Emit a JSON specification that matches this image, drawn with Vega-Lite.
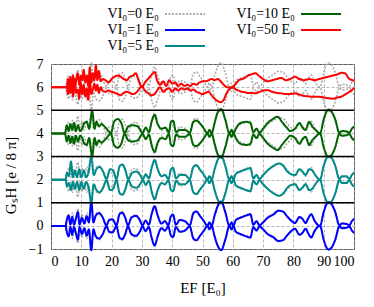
{
"$schema":"https://vega.github.io/schema/vega-lite/v6.json",
"width":303,"height":185,
"autosize":{"type":"none"},
"padding":{"left":51,"top":64,"right":20,"bottom":58},
"background":"white",
"config":{
"font":"Liberation Serif",
"view":{"stroke":"#555","strokeWidth":1},
"axis":{"labelFont":"Liberation Serif","labelFontSize":14,"labelColor":"#000","labelOverlap":false,"labelBound":false,"titleFont":"Liberation Serif","titleFontSize":15,"titleFontWeight":"normal","titleColor":"#000","domain":false,"ticks":false,"grid":true,"gridColor":"#999","gridDash":[3,2],"gridWidth":0.7},
"legend":{"symbolType":"M-4,0H4","symbolSize":100,"symbolStrokeWidth":2,"labelFont":"Liberation Serif","labelFontSize":14,"labelColor":"#000","rowPadding":2,"columnPadding":27}
},
"datasets":{
"gray":[
{"s":"V0","x":0,"u0":0,"l0":0,"u2":2,"l2":2,"u4":4,"l4":4,"u6":6,"l6":6},
{"s":"V0","x":4.8,"u0":0,"l0":0,"u2":2,"l2":2,"u4":4,"l4":4,"u6":6,"l6":6},
{"s":"V0","x":5.3,"u0":0.35,"l0":-0.35,"u2":2.35,"l2":1.65,"u4":4.35,"l4":3.65,"u6":6.35,"l6":5.65},
{"s":"V0","x":5.9,"u0":0.5,"l0":-0.5,"u2":2.5,"l2":1.5,"u4":4.5,"l4":3.5,"u6":6.5,"l6":5.5},
{"s":"V0","x":6.5,"u0":0.1,"l0":-0.1,"u2":2.1,"l2":1.9,"u4":4.1,"l4":3.9,"u6":6.1,"l6":5.9},
{"s":"V0","x":7.1,"u0":0.55,"l0":-0.55,"u2":2.55,"l2":1.45,"u4":4.55,"l4":3.45,"u6":6.55,"l6":5.45},
{"s":"V0","x":7.7,"u0":0.1,"l0":-0.1,"u2":2.1,"l2":1.9,"u4":4.1,"l4":3.9,"u6":6.1,"l6":5.9},
{"s":"V0","x":8.3,"u0":0.45,"l0":-0.45,"u2":2.45,"l2":1.55,"u4":4.45,"l4":3.55,"u6":6.45,"l6":5.55},
{"s":"V0","x":8.9,"u0":0.75,"l0":-0.75,"u2":2.75,"l2":1.25,"u4":4.75,"l4":3.25,"u6":6.75,"l6":5.25},
{"s":"V0","x":9.5,"u0":0.1,"l0":-0.1,"u2":2.1,"l2":1.9,"u4":4.1,"l4":3.9,"u6":6.1,"l6":5.9},
{"s":"V0","x":10.2,"u0":0.5,"l0":-0.5,"u2":2.5,"l2":1.5,"u4":4.5,"l4":3.5,"u6":6.5,"l6":5.5},
{"s":"V0","x":11.0,"u0":0.15,"l0":-0.15,"u2":2.15,"l2":1.85,"u4":4.15,"l4":3.85,"u6":6.15,"l6":5.85},
{"s":"V0","x":11.8,"u0":0.55,"l0":-0.55,"u2":2.55,"l2":1.45,"u4":4.55,"l4":3.45,"u6":6.55,"l6":5.45},
{"s":"V0","x":12.5,"u0":0.2,"l0":-0.2,"u2":2.2,"l2":1.8,"u4":4.2,"l4":3.8,"u6":6.2,"l6":5.8},
{"s":"V0","x":13.3,"u0":1.05,"l0":-1.05,"u2":3.05,"l2":0.95,"u4":5.05,"l4":2.95,"u6":7.05,"l6":4.95},
{"s":"V0","x":14.0,"u0":0.2,"l0":-0.2,"u2":2.2,"l2":1.8,"u4":4.2,"l4":3.8,"u6":6.2,"l6":5.8},
{"s":"V0","x":14.8,"u0":0.5,"l0":-0.5,"u2":2.5,"l2":1.5,"u4":4.5,"l4":3.5,"u6":6.5,"l6":5.5},
{"s":"V0","x":15.8,"u0":0.6,"l0":-0.6,"u2":2.6,"l2":1.4,"u4":4.6,"l4":3.4,"u6":6.6,"l6":5.4},
{"s":"V0","x":17.0,"u0":0.4,"l0":-0.4,"u2":2.4,"l2":1.6,"u4":4.4,"l4":3.6,"u6":6.4,"l6":5.6},
{"s":"V0","x":18.3,"u0":0.02,"l0":-0.02,"u2":2.02,"l2":1.98,"u4":4.02,"l4":3.98,"u6":6.02,"l6":5.98},
{"s":"V0","x":19.3,"u0":0.3,"l0":-0.3,"u2":2.3,"l2":1.7,"u4":4.3,"l4":3.7,"u6":6.3,"l6":5.7},
{"s":"V0","x":20.3,"u0":0.3,"l0":-0.3,"u2":2.3,"l2":1.7,"u4":4.3,"l4":3.7,"u6":6.3,"l6":5.7},
{"s":"V0","x":21.6,"u0":0.02,"l0":-0.02,"u2":2.02,"l2":1.98,"u4":4.02,"l4":3.98,"u6":6.02,"l6":5.98},
{"s":"V0","x":22.6,"u0":0.55,"l0":-0.55,"u2":2.55,"l2":1.45,"u4":4.55,"l4":3.45,"u6":6.55,"l6":5.45},
{"s":"V0","x":23.5,"u0":0.62,"l0":-0.62,"u2":2.62,"l2":1.38,"u4":4.62,"l4":3.38,"u6":6.62,"l6":5.38},
{"s":"V0","x":24.5,"u0":0.38,"l0":-0.38,"u2":2.38,"l2":1.62,"u4":4.38,"l4":3.62,"u6":6.38,"l6":5.62},
{"s":"V0","x":25.4,"u0":0.02,"l0":-0.02,"u2":2.02,"l2":1.98,"u4":4.02,"l4":3.98,"u6":6.02,"l6":5.98},
{"s":"V0","x":26.5,"u0":0.4,"l0":-0.4,"u2":2.4,"l2":1.6,"u4":4.4,"l4":3.6,"u6":6.4,"l6":5.6},
{"s":"V0","x":28.0,"u0":0.48,"l0":-0.48,"u2":2.48,"l2":1.52,"u4":4.48,"l4":3.52,"u6":6.48,"l6":5.52},
{"s":"V0","x":29.3,"u0":0.28,"l0":-0.28,"u2":2.28,"l2":1.72,"u4":4.28,"l4":3.72,"u6":6.28,"l6":5.72},
{"s":"V0","x":30.2,"u0":0.02,"l0":-0.02,"u2":2.02,"l2":1.98,"u4":4.02,"l4":3.98,"u6":6.02,"l6":5.98},
{"s":"V0","x":31.2,"u0":0.25,"l0":-0.25,"u2":2.25,"l2":1.75,"u4":4.25,"l4":3.75,"u6":6.25,"l6":5.75},
{"s":"V0","x":32.3,"u0":0.05,"l0":-0.05,"u2":2.05,"l2":1.95,"u4":4.05,"l4":3.95,"u6":6.05,"l6":5.95},
{"s":"V0","x":33.2,"u0":0.55,"l0":-0.55,"u2":2.55,"l2":1.45,"u4":4.55,"l4":3.45,"u6":6.55,"l6":5.45},
{"s":"V0","x":34.2,"u0":0.88,"l0":-0.88,"u2":2.88,"l2":1.12,"u4":4.88,"l4":3.12,"u6":6.88,"l6":5.12},
{"s":"V0","x":35.2,"u0":0.5,"l0":-0.5,"u2":2.5,"l2":1.5,"u4":4.5,"l4":3.5,"u6":6.5,"l6":5.5},
{"s":"V0","x":36.4,"u0":0.12,"l0":-0.12,"u2":2.12,"l2":1.88,"u4":4.12,"l4":3.88,"u6":6.12,"l6":5.88},
{"s":"V0","x":37.6,"u0":0.22,"l0":-0.22,"u2":2.22,"l2":1.78,"u4":4.22,"l4":3.78,"u6":6.22,"l6":5.78},
{"s":"V0","x":38.7,"u0":0.03,"l0":-0.03,"u2":2.03,"l2":1.97,"u4":4.03,"l4":3.97,"u6":6.03,"l6":5.97},
{"s":"V0","x":39.6,"u0":0.45,"l0":-0.45,"u2":2.45,"l2":1.55,"u4":4.45,"l4":3.55,"u6":6.45,"l6":5.55},
{"s":"V0","x":40.3,"u0":0.52,"l0":-0.52,"u2":2.52,"l2":1.48,"u4":4.52,"l4":3.48,"u6":6.52,"l6":5.48},
{"s":"V0","x":41.2,"u0":0.05,"l0":-0.05,"u2":2.05,"l2":1.95,"u4":4.05,"l4":3.95,"u6":6.05,"l6":5.95},
{"s":"V0","x":42.5,"u0":0.28,"l0":-0.28,"u2":2.28,"l2":1.72,"u4":4.28,"l4":3.72,"u6":6.28,"l6":5.72},
{"s":"V0","x":44.2,"u0":0.22,"l0":-0.22,"u2":2.22,"l2":1.78,"u4":4.22,"l4":3.78,"u6":6.22,"l6":5.78},
{"s":"V0","x":45.8,"u0":0.03,"l0":-0.03,"u2":2.03,"l2":1.97,"u4":4.03,"l4":3.97,"u6":6.03,"l6":5.97},
{"s":"V0","x":47.0,"u0":0.58,"l0":-0.58,"u2":2.58,"l2":1.42,"u4":4.58,"l4":3.42,"u6":6.58,"l6":5.42},
{"s":"V0","x":48.0,"u0":0.65,"l0":-0.65,"u2":2.65,"l2":1.35,"u4":4.65,"l4":3.35,"u6":6.65,"l6":5.35},
{"s":"V0","x":49.2,"u0":0.45,"l0":-0.45,"u2":2.45,"l2":1.55,"u4":4.45,"l4":3.55,"u6":6.45,"l6":5.55},
{"s":"V0","x":50.5,"u0":0.22,"l0":-0.22,"u2":2.22,"l2":1.78,"u4":4.22,"l4":3.78,"u6":6.22,"l6":5.78},
{"s":"V0","x":51.6,"u0":0,"l0":0,"u2":2,"l2":2,"u4":4,"l4":4,"u6":6,"l6":6},
{"s":"V0","x":52.3,"u0":0.18,"l0":-0.18,"u2":2.18,"l2":1.82,"u4":4.18,"l4":3.82,"u6":6.18,"l6":5.82},
{"s":"V0","x":53.0,"u0":0,"l0":0,"u2":2,"l2":2,"u4":4,"l4":4,"u6":6,"l6":6},
{"s":"V0","x":54.0,"u0":0.5,"l0":-0.5,"u2":2.5,"l2":1.5,"u4":4.5,"l4":3.5,"u6":6.5,"l6":5.5},
{"s":"V0","x":55.0,"u0":0.88,"l0":-0.88,"u2":2.88,"l2":1.12,"u4":4.88,"l4":3.12,"u6":6.88,"l6":5.12},
{"s":"V0","x":56.2,"u0":1.05,"l0":-1.05,"u2":3.05,"l2":0.95,"u4":5.05,"l4":2.95,"u6":7.05,"l6":4.95},
{"s":"V0","x":57.5,"u0":0.62,"l0":-0.62,"u2":2.62,"l2":1.38,"u4":4.62,"l4":3.38,"u6":6.62,"l6":5.38},
{"s":"V0","x":58.9,"u0":0,"l0":0,"u2":2,"l2":2,"u4":4,"l4":4,"u6":6,"l6":6},
{"s":"V0","x":59.6,"u0":0.18,"l0":-0.18,"u2":2.18,"l2":1.82,"u4":4.18,"l4":3.82,"u6":6.18,"l6":5.82},
{"s":"V0","x":60.2,"u0":0,"l0":0,"u2":2,"l2":2,"u4":4,"l4":4,"u6":6,"l6":6},
{"s":"V0","x":61.0,"u0":0.28,"l0":-0.28,"u2":2.28,"l2":1.72,"u4":4.28,"l4":3.72,"u6":6.28,"l6":5.72},
{"s":"V0","x":62.5,"u0":0.38,"l0":-0.38,"u2":2.38,"l2":1.62,"u4":4.38,"l4":3.62,"u6":6.38,"l6":5.62},
{"s":"V0","x":64.5,"u0":0.48,"l0":-0.48,"u2":2.48,"l2":1.52,"u4":4.48,"l4":3.52,"u6":6.48,"l6":5.52},
{"s":"V0","x":65.8,"u0":0.52,"l0":-0.52,"u2":2.52,"l2":1.48,"u4":4.52,"l4":3.48,"u6":6.52,"l6":5.48},
{"s":"V0","x":66.8,"u0":0.05,"l0":-0.05,"u2":2.05,"l2":1.95,"u4":4.05,"l4":3.95,"u6":6.05,"l6":5.95},
{"s":"V0","x":67.8,"u0":0.22,"l0":-0.22,"u2":2.22,"l2":1.78,"u4":4.22,"l4":3.78,"u6":6.22,"l6":5.78},
{"s":"V0","x":68.8,"u0":0.03,"l0":-0.03,"u2":2.03,"l2":1.97,"u4":4.03,"l4":3.97,"u6":6.03,"l6":5.97},
{"s":"V0","x":70.0,"u0":0.18,"l0":-0.18,"u2":2.18,"l2":1.82,"u4":4.18,"l4":3.82,"u6":6.18,"l6":5.82},
{"s":"V0","x":71.5,"u0":0.38,"l0":-0.38,"u2":2.38,"l2":1.62,"u4":4.38,"l4":3.62,"u6":6.38,"l6":5.62},
{"s":"V0","x":73.5,"u0":0.55,"l0":-0.55,"u2":2.55,"l2":1.45,"u4":4.55,"l4":3.45,"u6":6.55,"l6":5.45},
{"s":"V0","x":75.0,"u0":0.68,"l0":-0.68,"u2":2.68,"l2":1.32,"u4":4.68,"l4":3.32,"u6":6.68,"l6":5.32},
{"s":"V0","x":76.5,"u0":0.65,"l0":-0.65,"u2":2.65,"l2":1.35,"u4":4.65,"l4":3.35,"u6":6.65,"l6":5.35},
{"s":"V0","x":78.0,"u0":0.42,"l0":-0.42,"u2":2.42,"l2":1.58,"u4":4.42,"l4":3.58,"u6":6.42,"l6":5.58},
{"s":"V0","x":79.5,"u0":0.22,"l0":-0.22,"u2":2.22,"l2":1.78,"u4":4.22,"l4":3.78,"u6":6.22,"l6":5.78},
{"s":"V0","x":80.5,"u0":0.15,"l0":-0.15,"u2":2.15,"l2":1.85,"u4":4.15,"l4":3.85,"u6":6.15,"l6":5.85},
{"s":"V0","x":82.0,"u0":0.4,"l0":-0.4,"u2":2.4,"l2":1.6,"u4":4.4,"l4":3.6,"u6":6.4,"l6":5.6},
{"s":"V0","x":83.0,"u0":0.32,"l0":-0.32,"u2":2.32,"l2":1.68,"u4":4.32,"l4":3.68,"u6":6.32,"l6":5.68},
{"s":"V0","x":84.0,"u0":0.15,"l0":-0.15,"u2":2.15,"l2":1.85,"u4":4.15,"l4":3.85,"u6":6.15,"l6":5.85},
{"s":"V0","x":85.0,"u0":0.38,"l0":-0.38,"u2":2.38,"l2":1.62,"u4":4.38,"l4":3.62,"u6":6.38,"l6":5.62},
{"s":"V0","x":85.9,"u0":0.52,"l0":-0.52,"u2":2.52,"l2":1.48,"u4":4.52,"l4":3.48,"u6":6.52,"l6":5.48},
{"s":"V0","x":87.0,"u0":0.25,"l0":-0.25,"u2":2.25,"l2":1.75,"u4":4.25,"l4":3.75,"u6":6.25,"l6":5.75},
{"s":"V0","x":88.8,"u0":0,"l0":0,"u2":2,"l2":2,"u4":4,"l4":4,"u6":6,"l6":6},
{"s":"V0","x":90.0,"u0":0.62,"l0":-0.62,"u2":2.62,"l2":1.38,"u4":4.62,"l4":3.38,"u6":6.62,"l6":5.38},
{"s":"V0","x":91.5,"u0":1.05,"l0":-1.05,"u2":3.05,"l2":0.95,"u4":5.05,"l4":2.95,"u6":7.05,"l6":4.95},
{"s":"V0","x":92.5,"u0":0.98,"l0":-0.98,"u2":2.98,"l2":1.02,"u4":4.98,"l4":3.02,"u6":6.98,"l6":5.02},
{"s":"V0","x":93.8,"u0":0.62,"l0":-0.62,"u2":2.62,"l2":1.38,"u4":4.62,"l4":3.38,"u6":6.62,"l6":5.38},
{"s":"V0","x":95.2,"u0":0.02,"l0":-0.02,"u2":2.02,"l2":1.98,"u4":4.02,"l4":3.98,"u6":6.02,"l6":5.98},
{"s":"V0","x":96.0,"u0":0.12,"l0":-0.12,"u2":2.12,"l2":1.88,"u4":4.12,"l4":3.88,"u6":6.12,"l6":5.88},
{"s":"V0","x":97.5,"u0":0.1,"l0":-0.1,"u2":2.1,"l2":1.9,"u4":4.1,"l4":3.9,"u6":6.1,"l6":5.9},
{"s":"V0","x":98.5,"u0":0.03,"l0":-0.03,"u2":2.03,"l2":1.97,"u4":4.03,"l4":3.97,"u6":6.03,"l6":5.97},
{"s":"V0","x":99.3,"u0":0.22,"l0":-0.22,"u2":2.22,"l2":1.78,"u4":4.22,"l4":3.78,"u6":6.22,"l6":5.78},
{"s":"V0","x":100,"u0":0.32,"l0":-0.32,"u2":2.32,"l2":1.68,"u4":4.32,"l4":3.68,"u6":6.32,"l6":5.68}
],
"curves":[
{"s":"V1","x":0,"u":0,"l":0},{"s":"V1","x":4.8,"u":0,"l":0},{"s":"V1","x":5.2,"u":0.25,"l":-0.25},{"s":"V1","x":5.8,"u":0.45,"l":-0.45},{"s":"V1","x":6.4,"u":0.05,"l":-0.05},{"s":"V1","x":7.0,"u":0.38,"l":-0.38},{"s":"V1","x":7.6,"u":0.05,"l":-0.05},{"s":"V1","x":8.2,"u":0.3,"l":-0.3},{"s":"V1","x":8.9,"u":0.6,"l":-0.6},{"s":"V1","x":9.4,"u":0.05,"l":-0.05},{"s":"V1","x":10.2,"u":0.35,"l":-0.35},{"s":"V1","x":11.0,"u":0.1,"l":-0.1},{"s":"V1","x":11.8,"u":0.42,"l":-0.42},{"s":"V1","x":12.5,"u":0.15,"l":-0.15},{"s":"V1","x":13.3,"u":1.05,"l":-1.05},{"s":"V1","x":14.0,"u":0.15,"l":-0.15},{"s":"V1","x":14.8,"u":0.45,"l":-0.45},{"s":"V1","x":15.8,"u":0.55,"l":-0.55},{"s":"V1","x":17.0,"u":0.38,"l":-0.38},{"s":"V1","x":18.3,"u":0.02,"l":-0.02},{"s":"V1","x":19.2,"u":0.25,"l":-0.25},{"s":"V1","x":20.3,"u":0.28,"l":-0.28},{"s":"V1","x":21.6,"u":0.02,"l":-0.02},{"s":"V1","x":22.6,"u":0.5,"l":-0.5},{"s":"V1","x":23.5,"u":0.57,"l":-0.57},{"s":"V1","x":24.5,"u":0.35,"l":-0.35},{"s":"V1","x":25.4,"u":0.02,"l":-0.02},{"s":"V1","x":26.5,"u":0.35,"l":-0.35},{"s":"V1","x":28.0,"u":0.43,"l":-0.43},{"s":"V1","x":29.3,"u":0.25,"l":-0.25},{"s":"V1","x":30.2,"u":0.02,"l":-0.02},{"s":"V1","x":31.2,"u":0.22,"l":-0.22},{"s":"V1","x":32.3,"u":0.05,"l":-0.05},{"s":"V1","x":33.2,"u":0.5,"l":-0.5},{"s":"V1","x":34.2,"u":0.85,"l":-0.85},{"s":"V1","x":35.2,"u":0.45,"l":-0.45},{"s":"V1","x":36.4,"u":0.1,"l":-0.1},{"s":"V1","x":37.6,"u":0.2,"l":-0.2},{"s":"V1","x":38.7,"u":0.03,"l":-0.03},{"s":"V1","x":39.6,"u":0.42,"l":-0.42},{"s":"V1","x":40.3,"u":0.48,"l":-0.48},{"s":"V1","x":41.2,"u":0.05,"l":-0.05},{"s":"V1","x":42.5,"u":0.25,"l":-0.25},{"s":"V1","x":44.2,"u":0.2,"l":-0.2},{"s":"V1","x":45.8,"u":0.03,"l":-0.03},{"s":"V1","x":47.0,"u":0.55,"l":-0.55},{"s":"V1","x":48.0,"u":0.62,"l":-0.62},{"s":"V1","x":49.2,"u":0.42,"l":-0.42},{"s":"V1","x":50.5,"u":0.2,"l":-0.2},{"s":"V1","x":51.6,"u":0,"l":0},{"s":"V1","x":52.3,"u":0.15,"l":-0.15},{"s":"V1","x":53.0,"u":0,"l":0},{"s":"V1","x":54.0,"u":0.45,"l":-0.45},{"s":"V1","x":55.0,"u":0.85,"l":-0.85},{"s":"V1","x":56.2,"u":1.05,"l":-1.05},{"s":"V1","x":57.5,"u":0.6,"l":-0.6},{"s":"V1","x":58.9,"u":0,"l":0},{"s":"V1","x":59.6,"u":0.15,"l":-0.15},{"s":"V1","x":60.2,"u":0,"l":0},{"s":"V1","x":61.0,"u":0.25,"l":-0.25},{"s":"V1","x":62.5,"u":0.35,"l":-0.35},{"s":"V1","x":64.5,"u":0.45,"l":-0.45},{"s":"V1","x":65.8,"u":0.5,"l":-0.5},{"s":"V1","x":66.8,"u":0.05,"l":-0.05},{"s":"V1","x":67.8,"u":0.2,"l":-0.2},{"s":"V1","x":68.8,"u":0.03,"l":-0.03},{"s":"V1","x":70.0,"u":0.15,"l":-0.15},{"s":"V1","x":71.5,"u":0.35,"l":-0.35},{"s":"V1","x":73.5,"u":0.5,"l":-0.5},{"s":"V1","x":75.0,"u":0.65,"l":-0.65},{"s":"V1","x":76.5,"u":0.62,"l":-0.62},{"s":"V1","x":78.0,"u":0.4,"l":-0.4},{"s":"V1","x":79.5,"u":0.2,"l":-0.2},{"s":"V1","x":80.5,"u":0.12,"l":-0.12},{"s":"V1","x":82.0,"u":0.38,"l":-0.38},{"s":"V1","x":83.0,"u":0.3,"l":-0.3},{"s":"V1","x":84.0,"u":0.12,"l":-0.12},{"s":"V1","x":85.0,"u":0.35,"l":-0.35},{"s":"V1","x":85.9,"u":0.5,"l":-0.5},{"s":"V1","x":87.0,"u":0.22,"l":-0.22},{"s":"V1","x":88.8,"u":0,"l":0},{"s":"V1","x":90.0,"u":0.6,"l":-0.6},{"s":"V1","x":91.5,"u":1.02,"l":-1.02},{"s":"V1","x":92.5,"u":0.95,"l":-0.95},{"s":"V1","x":93.8,"u":0.6,"l":-0.6},{"s":"V1","x":95.2,"u":0.02,"l":-0.02},{"s":"V1","x":96.0,"u":0.1,"l":-0.1},{"s":"V1","x":97.5,"u":0.08,"l":-0.08},{"s":"V1","x":98.5,"u":0.03,"l":-0.03},{"s":"V1","x":99.3,"u":0.2,"l":-0.2},{"s":"V1","x":100,"u":0.3,"l":-0.3},
{"s":"V5","x":0,"u":2,"l":2},{"s":"V5","x":4.8,"u":2,"l":2},{"s":"V5","x":5.3,"u":2.3,"l":1.7},{"s":"V5","x":5.9,"u":2.15,"l":1.85},{"s":"V5","x":6.6,"u":2.78,"l":1.55},{"s":"V5","x":7.2,"u":2.1,"l":1.9},{"s":"V5","x":7.9,"u":2.4,"l":1.6},{"s":"V5","x":8.6,"u":2.1,"l":1.9},{"s":"V5","x":9.3,"u":2.45,"l":1.55},{"s":"V5","x":10.0,"u":2.1,"l":1.9},{"s":"V5","x":10.8,"u":2.4,"l":1.6},{"s":"V5","x":11.6,"u":2.1,"l":1.9},{"s":"V5","x":12.4,"u":2.35,"l":1.65},{"s":"V5","x":13.3,"u":3.0,"l":1.0},{"s":"V5","x":14.1,"u":2.2,"l":1.8},{"s":"V5","x":15.0,"u":2.45,"l":1.55},{"s":"V5","x":16.0,"u":2.55,"l":1.45},{"s":"V5","x":17.2,"u":2.35,"l":1.65},{"s":"V5","x":18.3,"u":2.03,"l":1.97},{"s":"V5","x":19.5,"u":2.45,"l":1.55},{"s":"V5","x":20.5,"u":2.4,"l":1.6},{"s":"V5","x":21.6,"u":2.02,"l":1.98},{"s":"V5","x":22.7,"u":2.6,"l":1.4},{"s":"V5","x":23.6,"u":2.65,"l":1.35},{"s":"V5","x":24.6,"u":2.4,"l":1.6},{"s":"V5","x":25.5,"u":2.02,"l":1.98},{"s":"V5","x":26.8,"u":2.3,"l":1.7},{"s":"V5","x":28.2,"u":2.35,"l":1.65},{"s":"V5","x":29.4,"u":2.2,"l":1.8},{"s":"V5","x":30.3,"u":2.02,"l":1.98},{"s":"V5","x":31.3,"u":2.22,"l":1.78},{"s":"V5","x":32.3,"u":2.05,"l":1.95},{"s":"V5","x":33.3,"u":2.55,"l":1.45},{"s":"V5","x":34.2,"u":2.85,"l":1.15},{"s":"V5","x":35.2,"u":2.45,"l":1.55},{"s":"V5","x":36.5,"u":2.15,"l":1.85},{"s":"V5","x":37.6,"u":2.2,"l":1.8},{"s":"V5","x":38.8,"u":2.03,"l":1.97},{"s":"V5","x":39.6,"u":2.45,"l":1.55},{"s":"V5","x":40.3,"u":2.5,"l":1.5},{"s":"V5","x":41.3,"u":2.05,"l":1.95},{"s":"V5","x":42.5,"u":2.2,"l":1.8},{"s":"V5","x":44.2,"u":2.2,"l":1.8},{"s":"V5","x":45.8,"u":2.03,"l":1.97},{"s":"V5","x":47.0,"u":2.55,"l":1.45},{"s":"V5","x":48.0,"u":2.62,"l":1.38},{"s":"V5","x":49.2,"u":2.42,"l":1.58},{"s":"V5","x":50.5,"u":2.2,"l":1.8},{"s":"V5","x":51.6,"u":2,"l":2},{"s":"V5","x":52.3,"u":2.15,"l":1.85},{"s":"V5","x":53.0,"u":2,"l":2},{"s":"V5","x":54.0,"u":2.45,"l":1.55},{"s":"V5","x":55.0,"u":2.85,"l":1.15},{"s":"V5","x":56.2,"u":3.02,"l":0.98},{"s":"V5","x":57.5,"u":2.6,"l":1.4},{"s":"V5","x":58.9,"u":2,"l":2},{"s":"V5","x":59.6,"u":2.15,"l":1.85},{"s":"V5","x":60.2,"u":2,"l":2},{"s":"V5","x":61.0,"u":2.25,"l":1.75},{"s":"V5","x":62.5,"u":2.35,"l":1.65},{"s":"V5","x":64.5,"u":2.45,"l":1.55},{"s":"V5","x":65.8,"u":2.5,"l":1.5},{"s":"V5","x":66.8,"u":2.05,"l":1.95},{"s":"V5","x":67.8,"u":2.2,"l":1.8},{"s":"V5","x":68.8,"u":2.03,"l":1.97},{"s":"V5","x":70.0,"u":2.2,"l":1.8},{"s":"V5","x":71.5,"u":2.4,"l":1.6},{"s":"V5","x":73.5,"u":2.6,"l":1.4},{"s":"V5","x":75.3,"u":2.7,"l":1.3},{"s":"V5","x":76.5,"u":2.62,"l":1.38},{"s":"V5","x":78.0,"u":2.35,"l":1.65},{"s":"V5","x":79.5,"u":2.22,"l":1.78},{"s":"V5","x":80.5,"u":2.2,"l":1.8},{"s":"V5","x":82.0,"u":2.45,"l":1.55},{"s":"V5","x":83.0,"u":2.35,"l":1.65},{"s":"V5","x":84.0,"u":2.2,"l":1.8},{"s":"V5","x":85.2,"u":2.45,"l":1.55},{"s":"V5","x":86.2,"u":2.4,"l":1.6},{"s":"V5","x":87.2,"u":2.2,"l":1.8},{"s":"V5","x":88.8,"u":2,"l":2},{"s":"V5","x":90.0,"u":2.6,"l":1.4},{"s":"V5","x":91.5,"u":3.0,"l":1.0},{"s":"V5","x":92.5,"u":2.95,"l":1.05},{"s":"V5","x":93.8,"u":2.6,"l":1.4},{"s":"V5","x":95.2,"u":2.02,"l":1.98},{"s":"V5","x":96.0,"u":2.15,"l":1.85},{"s":"V5","x":97.5,"u":2.15,"l":1.85},{"s":"V5","x":98.5,"u":2.03,"l":1.97},{"s":"V5","x":99.3,"u":2.2,"l":1.8},{"s":"V5","x":100,"u":2.3,"l":1.7},
{"s":"V10","x":0,"u":4,"l":4},{"s":"V10","x":4.6,"u":4,"l":4},{"s":"V10","x":5.2,"u":4.35,"l":3.65},{"s":"V10","x":5.8,"u":4.1,"l":3.9},{"s":"V10","x":6.4,"u":4.4,"l":3.6},{"s":"V10","x":7.0,"u":4.15,"l":3.85},{"s":"V10","x":7.6,"u":4.45,"l":3.55},{"s":"V10","x":8.2,"u":4.1,"l":3.9},{"s":"V10","x":8.9,"u":4.35,"l":3.65},{"s":"V10","x":9.6,"u":4.1,"l":3.9},{"s":"V10","x":10.3,"u":4.2,"l":3.8},{"s":"V10","x":11.0,"u":4.45,"l":3.55},{"s":"V10","x":11.8,"u":4.5,"l":3.5},{"s":"V10","x":12.6,"u":4.2,"l":3.8},{"s":"V10","x":13.6,"u":4.95,"l":3.0},{"s":"V10","x":14.4,"u":4.2,"l":3.8},{"s":"V10","x":15.0,"u":4.5,"l":3.5},{"s":"V10","x":15.8,"u":4.3,"l":3.7},{"s":"V10","x":16.6,"u":4.4,"l":3.6},{"s":"V10","x":18.0,"u":4.25,"l":3.75},{"s":"V10","x":19.8,"u":4.02,"l":3.98},{"s":"V10","x":20.8,"u":4.5,"l":3.5},{"s":"V10","x":22.0,"u":4.62,"l":3.38},{"s":"V10","x":23.2,"u":4.45,"l":3.55},{"s":"V10","x":24.3,"u":4.02,"l":3.98},{"s":"V10","x":25.5,"u":4.3,"l":3.7},{"s":"V10","x":27.0,"u":4.35,"l":3.65},{"s":"V10","x":28.6,"u":4.3,"l":3.7},{"s":"V10","x":30.2,"u":4.02,"l":3.98},{"s":"V10","x":31.3,"u":4.25,"l":3.75},{"s":"V10","x":32.3,"u":4.05,"l":3.95},{"s":"V10","x":33.3,"u":4.55,"l":3.45},{"s":"V10","x":34.2,"u":4.8,"l":3.2},{"s":"V10","x":35.2,"u":4.4,"l":3.6},{"s":"V10","x":36.5,"u":4.2,"l":3.8},{"s":"V10","x":37.8,"u":4.25,"l":3.75},{"s":"V10","x":38.9,"u":4.03,"l":3.97},{"s":"V10","x":39.6,"u":4.5,"l":3.5},{"s":"V10","x":40.3,"u":4.55,"l":3.45},{"s":"V10","x":41.3,"u":4.05,"l":3.95},{"s":"V10","x":42.5,"u":4.15,"l":3.85},{"s":"V10","x":44.2,"u":4.15,"l":3.85},{"s":"V10","x":45.8,"u":4.03,"l":3.97},{"s":"V10","x":47.0,"u":4.5,"l":3.5},{"s":"V10","x":48.0,"u":4.55,"l":3.45},{"s":"V10","x":49.2,"u":4.42,"l":3.58},{"s":"V10","x":50.5,"u":4.2,"l":3.8},{"s":"V10","x":51.6,"u":4,"l":4},{"s":"V10","x":52.3,"u":4.15,"l":3.85},{"s":"V10","x":53.0,"u":4,"l":4},{"s":"V10","x":54.0,"u":4.45,"l":3.55},{"s":"V10","x":55.0,"u":4.9,"l":3.1},{"s":"V10","x":56.2,"u":5.05,"l":2.95},{"s":"V10","x":57.5,"u":4.6,"l":3.4},{"s":"V10","x":58.9,"u":4,"l":4},{"s":"V10","x":59.6,"u":4.15,"l":3.85},{"s":"V10","x":60.2,"u":4,"l":4},{"s":"V10","x":61.0,"u":4.2,"l":3.8},{"s":"V10","x":62.5,"u":4.45,"l":3.55},{"s":"V10","x":64.5,"u":4.5,"l":3.5},{"s":"V10","x":65.8,"u":4.45,"l":3.55},{"s":"V10","x":66.8,"u":4.05,"l":3.95},{"s":"V10","x":67.8,"u":4.2,"l":3.8},{"s":"V10","x":68.8,"u":4.03,"l":3.97},{"s":"V10","x":70.0,"u":4.2,"l":3.8},{"s":"V10","x":71.5,"u":4.45,"l":3.55},{"s":"V10","x":73.0,"u":4.6,"l":3.4},{"s":"V10","x":74.8,"u":4.72,"l":3.28},{"s":"V10","x":76.2,"u":4.5,"l":3.5},{"s":"V10","x":77.8,"u":4.25,"l":3.75},{"s":"V10","x":79.0,"u":4.1,"l":3.9},{"s":"V10","x":80.5,"u":4.2,"l":3.8},{"s":"V10","x":82.0,"u":4.45,"l":3.55},{"s":"V10","x":83.0,"u":4.25,"l":3.75},{"s":"V10","x":84.0,"u":4.15,"l":3.85},{"s":"V10","x":85.2,"u":4.5,"l":3.5},{"s":"V10","x":86.2,"u":4.3,"l":3.7},{"s":"V10","x":87.3,"u":4.15,"l":3.85},{"s":"V10","x":88.8,"u":4,"l":4},{"s":"V10","x":90.0,"u":4.6,"l":3.4},{"s":"V10","x":91.5,"u":5.02,"l":2.98},{"s":"V10","x":92.5,"u":4.95,"l":3.05},{"s":"V10","x":93.8,"u":4.6,"l":3.4},{"s":"V10","x":95.2,"u":4.02,"l":3.98},{"s":"V10","x":96.0,"u":4.1,"l":3.9},{"s":"V10","x":97.5,"u":4.08,"l":3.92},{"s":"V10","x":98.5,"u":4.03,"l":3.97},{"s":"V10","x":99.3,"u":4.2,"l":3.8},{"s":"V10","x":100,"u":4.3,"l":3.7},
{"s":"V50","x":0,"u":6,"l":6},{"s":"V50","x":5.2,"u":6,"l":6},{"s":"V50","x":5.6,"u":6.35,"l":5.7},{"s":"V50","x":6.0,"u":5.8,"l":6.3},{"s":"V50","x":6.4,"u":6.45,"l":5.75},{"s":"V50","x":6.9,"u":5.85,"l":6.2},{"s":"V50","x":7.3,"u":6.5,"l":5.6},{"s":"V50","x":7.8,"u":5.9,"l":6.35},{"s":"V50","x":8.3,"u":6.3,"l":5.75},{"s":"V50","x":8.8,"u":6.6,"l":5.9},{"s":"V50","x":9.3,"u":6.1,"l":5.5},{"s":"V50","x":9.8,"u":6.5,"l":6.2},{"s":"V50","x":10.3,"u":6.3,"l":5.7},{"s":"V50","x":10.8,"u":6.75,"l":6.1},{"s":"V50","x":11.3,"u":6.2,"l":5.6},{"s":"V50","x":11.8,"u":6.5,"l":5.95},{"s":"V50","x":12.3,"u":6.05,"l":5.45},{"s":"V50","x":12.8,"u":6.85,"l":6.3},{"s":"V50","x":13.3,"u":6.2,"l":5.7},{"s":"V50","x":13.8,"u":6.6,"l":5.9},{"s":"V50","x":14.3,"u":6.3,"l":6.15},{"s":"V50","x":14.8,"u":6.95,"l":5.85},{"s":"V50","x":15.3,"u":6.3,"l":6.1},{"s":"V50","x":15.8,"u":6.7,"l":5.75},{"s":"V50","x":16.4,"u":6.25,"l":6.0},{"s":"V50","x":17.0,"u":6.35,"l":5.85},{"s":"V50","x":18.0,"u":6.3,"l":5.8},{"s":"V50","x":19.0,"u":6.2,"l":5.85},{"s":"V50","x":20.0,"u":6.35,"l":5.8},{"s":"V50","x":21.0,"u":6.45,"l":5.75},{"s":"V50","x":22.0,"u":6.5,"l":5.7},{"s":"V50","x":23.0,"u":6.45,"l":5.65},{"s":"V50","x":24.0,"u":6.35,"l":5.75},{"s":"V50","x":25.0,"u":6.3,"l":5.8},{"s":"V50","x":26.0,"u":6.45,"l":5.75},{"s":"V50","x":27.0,"u":6.5,"l":5.7},{"s":"V50","x":28.0,"u":6.6,"l":5.75},{"s":"V50","x":29.0,"u":6.25,"l":5.9},{"s":"V50","x":30.0,"u":6.0,"l":6.05},{"s":"V50","x":31.0,"u":6.2,"l":5.85},{"s":"V50","x":32.0,"u":6.35,"l":5.75},{"s":"V50","x":33.0,"u":6.5,"l":5.65},{"s":"V50","x":34.2,"u":6.65,"l":5.7},{"s":"V50","x":35.0,"u":6.3,"l":5.85},{"s":"V50","x":36.0,"u":6.1,"l":6.0},{"s":"V50","x":37.0,"u":6.25,"l":5.8},{"s":"V50","x":38.0,"u":6.05,"l":5.9},{"s":"V50","x":39.0,"u":6.3,"l":5.95},{"s":"V50","x":40.0,"u":6.15,"l":5.8},{"s":"V50","x":41.0,"u":6.2,"l":5.95},{"s":"V50","x":42.0,"u":6.05,"l":5.85},{"s":"V50","x":43.0,"u":6.15,"l":5.95},{"s":"V50","x":44.0,"u":6.05,"l":5.9},{"s":"V50","x":45.0,"u":6.1,"l":5.95},{"s":"V50","x":46.0,"u":6.05,"l":5.85},{"s":"V50","x":47.0,"u":6.15,"l":5.9},{"s":"V50","x":48.0,"u":6.1,"l":5.8},{"s":"V50","x":49.0,"u":6.2,"l":5.75},{"s":"V50","x":50.0,"u":6.25,"l":5.7},{"s":"V50","x":51.0,"u":6.25,"l":5.75},{"s":"V50","x":52.0,"u":6.3,"l":5.8},{"s":"V50","x":53.0,"u":6.35,"l":5.65},{"s":"V50","x":54.0,"u":6.3,"l":5.5},{"s":"V50","x":55.0,"u":6.35,"l":5.4},{"s":"V50","x":56.0,"u":6.25,"l":5.35},{"s":"V50","x":57.0,"u":6.1,"l":5.45},{"s":"V50","x":58.0,"u":6.0,"l":5.75},{"s":"V50","x":59.0,"u":5.98,"l":5.92},{"s":"V50","x":60.0,"u":6.0,"l":6.0},{"s":"V50","x":61.0,"u":6.15,"l":5.9},{"s":"V50","x":62.0,"u":6.3,"l":5.85},{"s":"V50","x":63.0,"u":6.35,"l":5.8},{"s":"V50","x":64.0,"u":6.4,"l":5.78},{"s":"V50","x":65.0,"u":6.5,"l":5.75},{"s":"V50","x":66.0,"u":6.55,"l":5.75},{"s":"V50","x":67.5,"u":6.6,"l":5.73},{"s":"V50","x":68.5,"u":6.5,"l":5.78},{"s":"V50","x":70.0,"u":6.35,"l":5.85},{"s":"V50","x":71.5,"u":6.25,"l":5.87},{"s":"V50","x":73.0,"u":6.3,"l":5.8},{"s":"V50","x":74.5,"u":6.35,"l":5.75},{"s":"V50","x":76.0,"u":6.4,"l":5.73},{"s":"V50","x":77.5,"u":6.3,"l":5.7},{"s":"V50","x":79.0,"u":6.35,"l":5.7},{"s":"V50","x":80.5,"u":6.45,"l":5.73},{"s":"V50","x":82.0,"u":6.35,"l":5.68},{"s":"V50","x":83.5,"u":6.3,"l":5.62},{"s":"V50","x":85.0,"u":6.35,"l":5.6},{"s":"V50","x":87.0,"u":6.3,"l":5.58},{"s":"V50","x":88.5,"u":6.35,"l":5.58},{"s":"V50","x":90.0,"u":6.4,"l":5.55},{"s":"V50","x":91.5,"u":6.45,"l":5.52},{"s":"V50","x":93.0,"u":6.5,"l":5.5},{"s":"V50","x":94.5,"u":6.55,"l":5.55},{"s":"V50","x":96.0,"u":6.62,"l":5.6},{"s":"V50","x":97.0,"u":6.6,"l":5.68},{"s":"V50","x":98.5,"u":6.35,"l":5.8},{"s":"V50","x":99.5,"u":6.3,"l":5.9},{"s":"V50","x":100,"u":6.25,"l":5.95}
],
"seps":[{"value":1},{"value":3},{"value":5}]
},
"layer":[
{"data":{"name":"gray"},
 "transform":[{"fold":["u0","l0","u2","l2","u4","l4","u6","l6"]}],
 "mark":{"type":"line","interpolate":"monotone","strokeWidth":1.6},
 "encoding":{
  "x":{"field":"x","type":"quantitative","scale":{"domain":[0,100],"nice":false},"axis":{"values":[0,10,20,30,40,50,60,70,80,90,100],"tickCount":20,"format":"d","labelOverlap":false,"title":"EF [E₀]","labelPadding":5,"titlePadding":12}},
  "y":{"field":"value","type":"quantitative","scale":{"domain":[-1,7],"nice":false,"zero":false},"axis":{"values":[-1,0,1,2,3,4,5,6,7],"tickCount":20,"format":"d","labelOverlap":false,"title":"GₛH [e / 8 π]","labelPadding":8,"titlePadding":10,"titleY":111}},
  "detail":{"field":"key"},
  "color":{"field":"s","type":"nominal","scale":{"domain":["V0","V1","V5","V10","V50"],"range":["#aaaaaa","#0000ff","#008b8b","#006400","#ff0000"]},"legend":{"title":null,"orient":"none","legendX":127,"legendY":-57,"columns":2,"labelAlign":"right","labelOffset":-33,"labelExpr":"datum.value=='V0'?'VI₀=0 E₀':datum.value=='V1'?'VI₀=1 E₀':datum.value=='V5'?'VI₀=5 E₀':datum.value=='V10'?'VI₀=10 E₀':'VI₀=50 E₀'"}},
  "strokeDash":{"field":"s","type":"nominal","scale":{"domain":["V0","V1","V5","V10","V50"],"range":[[2,1.5],[1,0],[1,0],[1,0],[1,0]]},"legend":{"title":null,"orient":"none","legendX":127,"legendY":-57,"columns":2,"labelAlign":"right","labelOffset":-33,"labelExpr":"datum.value=='V0'?'VI₀=0 E₀':datum.value=='V1'?'VI₀=1 E₀':datum.value=='V5'?'VI₀=5 E₀':datum.value=='V10'?'VI₀=10 E₀':'VI₀=50 E₀'"}}
 }},
{"data":{"name":"curves"},
 "transform":[{"fold":["u","l"]}],
 "mark":{"type":"line","interpolate":"monotone","strokeWidth":2},
 "encoding":{
  "x":{"field":"x","type":"quantitative"},
  "y":{"field":"value","type":"quantitative"},
  "detail":{"field":"key"},
  "color":{"field":"s","type":"nominal"},
  "strokeDash":{"field":"s","type":"nominal"}
 }},
{"data":{"name":"seps"},
 "mark":{"type":"rule","color":"#000","strokeWidth":1.3},
 "encoding":{"y":{"field":"value","type":"quantitative"}}}
]
}
